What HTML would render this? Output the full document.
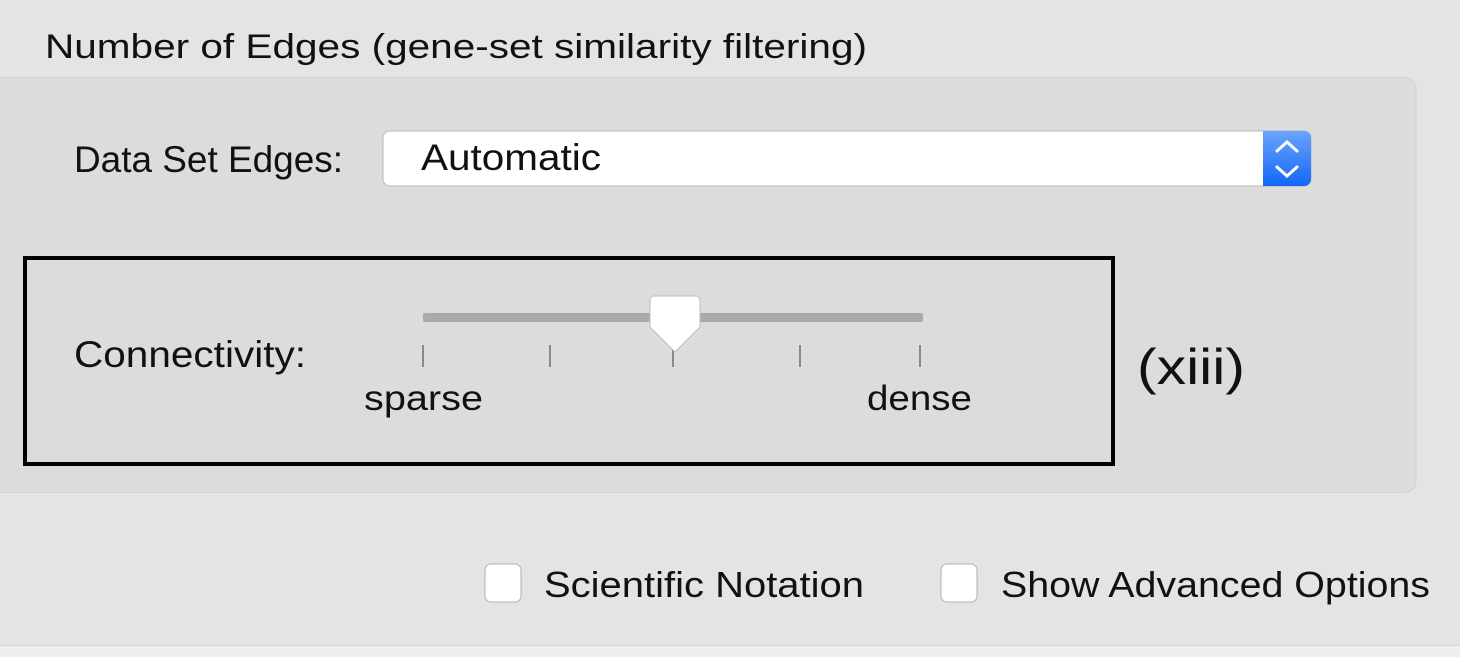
<!DOCTYPE html>
<html><head><meta charset="utf-8"><style>
html,body{margin:0;padding:0;background:#e4e4e4;}
svg{display:block;}
text{font-family:"Liberation Sans",sans-serif;fill:#111;}
</style></head><body>
<svg width="1460" height="657" viewBox="0 0 1460 657" xmlns="http://www.w3.org/2000/svg">
<defs>
<linearGradient id="blue" x1="0" y1="0" x2="0" y2="1">
<stop offset="0" stop-color="#6aa4fb"/><stop offset="1" stop-color="#1467fb"/>
</linearGradient>
</defs>
<rect x="0" y="0" width="1460" height="657" fill="#e4e4e4"/>
<rect x="0" y="646" width="1460" height="11" fill="#efefef"/>
<line x1="0" y1="645.5" x2="1460" y2="645.5" stroke="#d6d6d6"/>
<text x="45" y="58" font-size="34" textLength="822" lengthAdjust="spacingAndGlyphs">Number of Edges (gene-set similarity filtering)</text>
<rect x="-20" y="77.5" width="1436" height="415" rx="11" fill="#dcdcdc" stroke="#d2d2d2"/>
<text x="74" y="172" font-size="37" textLength="269" lengthAdjust="spacingAndGlyphs">Data Set Edges:</text>
<rect x="383" y="131" width="928" height="55" rx="7" fill="#fff" stroke="#b8b8b8"/>
<path d="M1263 131 H1304 a7 7 0 0 1 7 7 V179 a7 7 0 0 1 -7 7 H1263 Z" fill="url(#blue)"/>
<path d="M1277 151 l10 -9 l10 9 M1277 167 l10 9 l10 -9" stroke="#fff" stroke-width="3" fill="none" stroke-linecap="round"/>
<text x="421" y="170" font-size="37" textLength="180" lengthAdjust="spacingAndGlyphs">Automatic</text>
<rect x="25" y="258" width="1088" height="206" fill="none" stroke="#000" stroke-width="4"/>
<text x="74" y="367" font-size="37" textLength="232" lengthAdjust="spacingAndGlyphs">Connectivity:</text>
<g stroke="#8a8a8a" stroke-width="2">
<line x1="423" y1="345" x2="423" y2="367"/>
<line x1="550" y1="345" x2="550" y2="367"/>
<line x1="673" y1="345" x2="673" y2="367"/>
<line x1="800" y1="345" x2="800" y2="367"/>
<line x1="920" y1="345" x2="920" y2="367"/>
</g>
<rect x="423" y="313" width="500" height="9" rx="2" fill="#aaaaaa"/>
<path d="M654 296 H696 a4 4 0 0 1 4 4 V327 L675 352 L650 327 V300 a4 4 0 0 1 4 -4 Z" fill="#fff" stroke="#bdbdbd" stroke-width="1"/>
<text x="364" y="410" font-size="35" textLength="119" lengthAdjust="spacingAndGlyphs">sparse</text>
<text x="867" y="410" font-size="35" textLength="105" lengthAdjust="spacingAndGlyphs">dense</text>
<text x="1137" y="384" font-size="50" textLength="108" lengthAdjust="spacingAndGlyphs">(xiii)</text>
<rect x="485" y="564" width="36" height="38" rx="6" fill="#fff" stroke="#b0b0b0"/>
<text x="544" y="597" font-size="36" textLength="320" lengthAdjust="spacingAndGlyphs">Scientific Notation</text>
<rect x="941" y="564" width="36" height="38" rx="6" fill="#fff" stroke="#b0b0b0"/>
<text x="1001" y="597" font-size="36" textLength="429" lengthAdjust="spacingAndGlyphs">Show Advanced Options</text>
</svg>
</body></html>
